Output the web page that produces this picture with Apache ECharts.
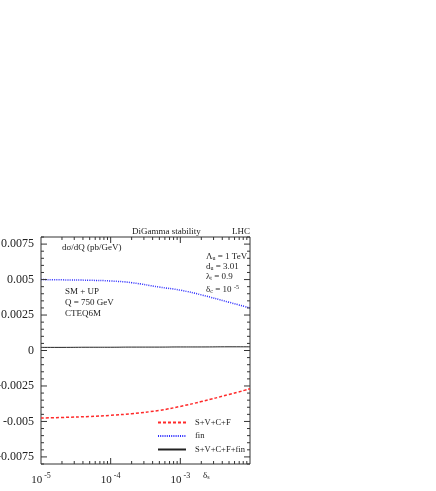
<!DOCTYPE html>
<html>
<head>
<meta charset="utf-8">
<script src="https://cdn.jsdelivr.net/npm/echarts@6/dist/echarts.min.js"></script>
<style>
  html, body { margin: 0; padding: 0; background: #fff; }
  #chart { width: 436px; height: 491px; }
</style>
</head>
<body>
<div id="chart"></div>
<script>
// delta_s sample points (log spaced)
const deltaS = [1e-5, 2e-5, 5e-5, 1e-4, 2e-4, 5e-4, 1e-3, 2e-3, 5e-3, 1e-2];
// dsigma/dQ (pb/GeV)
const svcf = [-0.00476, -0.00472, -0.00465, -0.00457, -0.00445, -0.00422, -0.00394, -0.00360, -0.00310, -0.00270];
const fin = [0.00500, 0.00498, 0.00495, 0.00490, 0.00478, 0.00447, 0.00425, 0.00392, 0.00340, 0.00300];
const total = [0.00022, 0.00022, 0.00023, 0.00023, 0.00024, 0.00024, 0.00025, 0.00025, 0.00026, 0.00026];

const yLabels = [-0.0075, -0.005, -0.0025, 0, 0.0025, 0.005, 0.0075];
const yMinor = [];
for (let i = -16; i <= 16; i++) {
  const v = +(i * 0.0005).toFixed(4);
  if (i % 5 !== 0) yMinor.push(v);
}
const xMajor = [1e-4, 1e-3];
const xMinor = [];
for (let e = -5; e <= -3; e++) {
  for (let m = 2; m <= 9; m++) xMinor.push(+(m * Math.pow(10, e)).toPrecision(2));
}

const FONT = 'Liberation Serif';
const INK = '#333';

const zip = (xs, ys) => xs.map((x, i) => [x, ys[i]]);

// tick marks mirrored on both sides of the frame
const xTickSeries = (vals, len) => ({
  type: 'custom',
  silent: true,
  z: 5,
  data: vals.map(v => [v, 0]),
  renderItem: (params, api) => {
    const cs = params.coordSys;
    const x = api.coord([api.value(0), 0])[0];
    const b = cs.y + cs.height;
    return {
      type: 'group',
      children: [
        { type: 'line', shape: { x1: x, y1: b, x2: x, y2: b - len }, style: { stroke: INK, lineWidth: 1 } },
        { type: 'line', shape: { x1: x, y1: cs.y, x2: x, y2: cs.y + len }, style: { stroke: INK, lineWidth: 1 } }
      ]
    };
  }
});

const yTickSeries = (vals, len) => ({
  type: 'custom',
  silent: true,
  z: 5,
  data: vals.map(v => [1e-5, v]),
  renderItem: (params, api) => {
    const cs = params.coordSys;
    const y = api.coord([1e-5, api.value(1)])[1];
    const r = cs.x + cs.width;
    return {
      type: 'group',
      children: [
        { type: 'line', shape: { x1: cs.x, y1: y, x2: cs.x + len, y2: y }, style: { stroke: INK, lineWidth: 1 } },
        { type: 'line', shape: { x1: r, y1: y, x2: r - len, y2: y }, style: { stroke: INK, lineWidth: 1 } }
      ]
    };
  }
});

const txt = (left, top, text) => ({
  type: 'text',
  left: left,
  top: top,
  style: {
    text: text,
    font: '9px "' + FONT + '"',
    fill: '#222',
    rich: {
      sub: { fontSize: 6, fontFamily: FONT, padding: [4, 0, 0, 0] },
      sup: { fontSize: 6, fontFamily: FONT, padding: [0, 0, 5, 1] },
      n: { fontSize: 9, fontFamily: FONT }
    }
  }
});

const chart = echarts.init(document.getElementById('chart'));
chart.setOption({
  animation: false,
  backgroundColor: '#fff',
  grid: {
    left: 41, top: 237, width: 209, height: 227,
    outerBoundsMode: 'none',
    containLabel: false,
    show: true, borderColor: INK, borderWidth: 1
  },
  xAxis: {
    type: 'log',
    logBase: 10,
    min: 1e-5,
    max: 1e-2,
    axisLine: { show: false },
    axisTick: { show: false },
    splitLine: { show: false },
    axisLabel: {
      margin: 8,
      formatter: v => {
        const e = Math.round(Math.log10(v));
        return e >= -2 ? '' : '{b|10}{s| ' + e + '}';
      },
      rich: {
        b: { fontFamily: FONT, fontSize: 11, color: '#222' },
        s: { fontFamily: FONT, fontSize: 8, color: '#222', padding: [0, 0, 9, 0] }
      }
    }
  },
  yAxis: {
    type: 'value',
    min: -0.008,
    max: 0.008,
    axisLine: { show: false },
    axisTick: { show: false },
    splitLine: { show: false },
    axisLabel: {
      customValues: yLabels,
      margin: 7,
      fontFamily: FONT,
      fontSize: 12,
      color: '#222',
      formatter: v => String(v)
    }
  },
  legend: {
    left: 152,
    top: 413,
    orient: 'vertical',
    itemWidth: 28,
    itemHeight: 10,
    itemGap: 4.5,
    itemStyle: { opacity: 0 },
    data: ['S+V+C+F', 'fin', 'S+V+C+F+fin'],
    textStyle: { fontFamily: FONT, fontSize: 8.5, color: '#222', padding: [0, 0, 0, 4] }
  },
  series: [
    {
      name: 'S+V+C+F', type: 'line', smooth: true, showSymbol: false, symbol: 'none',
      lineStyle: { color: '#ff2a2a', width: 1.5, type: [3, 2] },
      itemStyle: { color: '#ff2a2a' },
      data: zip(deltaS, svcf)
    },
    {
      name: 'fin', type: 'line', smooth: true, showSymbol: false, symbol: 'none',
      lineStyle: { color: '#2a2aff', width: 1.5, type: [1, 1.2] },
      itemStyle: { color: '#2a2aff' },
      data: zip(deltaS, fin)
    },
    {
      name: 'S+V+C+F+fin', type: 'line', smooth: true, showSymbol: false, symbol: 'none',
      lineStyle: { color: '#222', width: 1 },
      itemStyle: { color: '#222' },
      data: zip(deltaS, total)
    },
    xTickSeries(xMajor, 6),
    xTickSeries(xMinor, 3),
    yTickSeries(yLabels, 6),
    yTickSeries(yMinor, 3)
  ],
  graphic: [
    txt(132, 227, 'DiGamma stability'),
    txt(232, 227, 'LHC'),
    txt(62, 243, 'dσ/dQ (pb/GeV)'),
    txt(65, 287, 'SM + UP'),
    txt(65, 298, 'Q = 750 GeV'),
    txt(65, 309, 'CTEQ6M'),
    txt(206, 252, '{n|Λ}{sub|u}{n| = 1 TeV}'),
    txt(206, 262, '{n|d}{sub|u}{n| = 3.01}'),
    txt(206, 272, '{n|λ}{sub|t}{n| = 0.9}'),
    txt(206, 284, '{n|δ}{sub|c}{n| = 10}{sup| -5}'),
    txt(203, 471, '{n|δ}{sub|s}')
  ]
});
</script>
</body>
</html>
